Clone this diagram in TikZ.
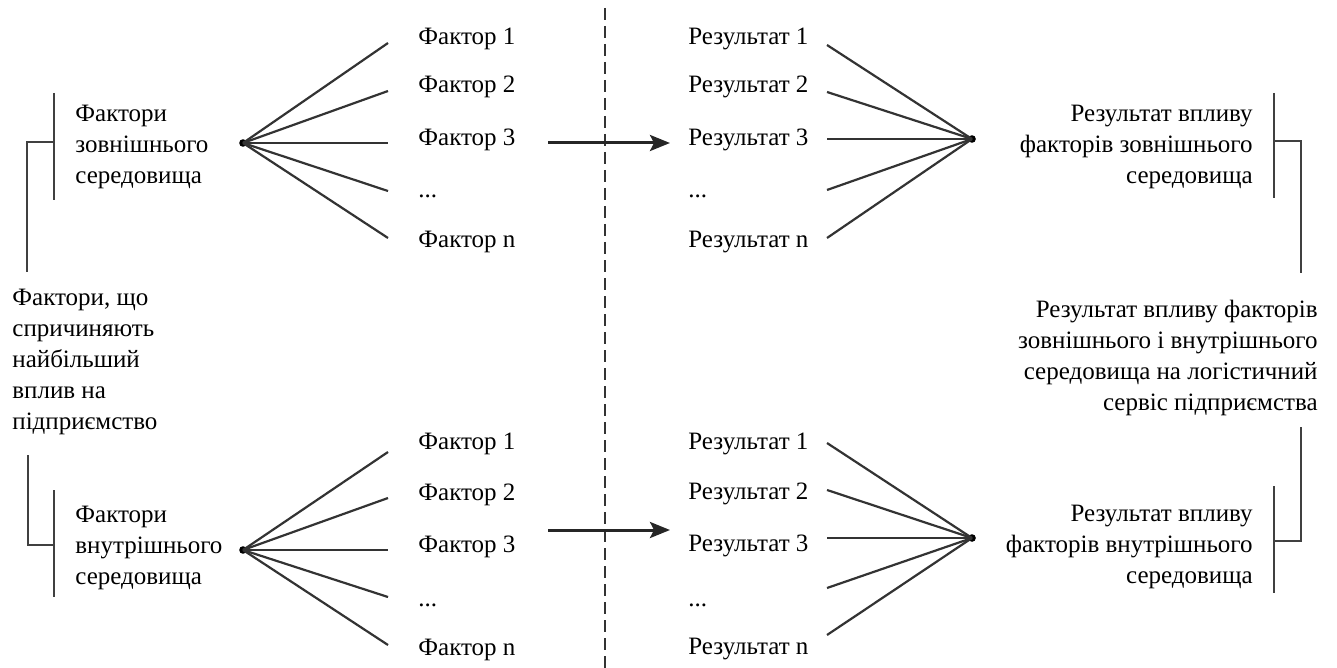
\documentclass[tikz,border=0pt]{standalone}
\usepackage{fontspec}
\setmainfont{Liberation Serif}
\usetikzlibrary{arrows.meta}

\tikzset{
  lbl/.style={inner sep=0pt, font=\fontsize{12.5}{15.5}\selectfont},
  txtL/.style={lbl, align=left, anchor=west},
  txtR/.style={lbl, align=right, anchor=east},
  item/.style={lbl, anchor=mid west},
  hub/.style={circle, fill=black, inner sep=0pt, minimum size=3.8pt},
  spoke/.style={draw=black!80, line width=1.1pt},
  brace/.style={draw=black!75, line width=1.1pt},
  flow/.style={draw=black!85, line width=1.5pt, -{Stealth[length=10pt,width=8pt,inset=2pt]}},
  divider/.style={draw=black!80, line width=0.9pt, dash pattern=on 6pt off 3pt}
}

\begin{document}
\begin{tikzpicture}[x=0.5pt, y=-0.5pt]
  \useasboundingbox (0,0) rectangle (1337,668);

  % vertical divider
  \coordinate (dtop) at (605,8);
  \coordinate (dbot) at (605,668);
  \draw[divider] (dtop) -- (dbot);

  % ---------- left column texts ----------
  \node[txtL] (ext) at (75,147) {Фактори\\зовнішнього\\середовища};
  \node[txtL] (main) at (12,362) {Фактори, що\\спричиняють\\найбільший\\вплив на\\підприємство};
  \node[txtL] (int) at (75,548) {Фактори\\внутрішнього\\середовища};

  % left brackets
  \coordinate (lb1t) at (54,93);   \coordinate (lb1b) at (54,200);
  \coordinate (lb1m) at (54,142);  \coordinate (lb1c) at (27,142);
  \coordinate (lb1e) at (27,272);
  \draw[brace] (lb1t) -- (lb1b);
  \draw[brace] (lb1m) -- (lb1c) -- (lb1e);
  \coordinate (lb2s) at (28,455);  \coordinate (lb2c) at (28,545);
  \coordinate (lb2m) at (54,545);
  \coordinate (lb2t) at (54,490);  \coordinate (lb2b) at (54,597);
  \draw[brace] (lb2s) -- (lb2c) -- (lb2m);
  \draw[brace] (lb2t) -- (lb2b);

  % ---------- right column texts ----------
  \node[txtR] (rext) at (1253,147) {Результат впливу\\факторів зовнішнього\\середовища};
  \node[txtR] (rmain) at (1318,358) {Результат впливу факторів\\зовнішнього і внутрішнього\\середовища на логістичний\\сервіс підприємства};
  \node[txtR] (rint) at (1253,547) {Результат впливу\\факторів внутрішнього\\середовища};

  % right brackets
  \coordinate (rb1t) at (1274,93);  \coordinate (rb1b) at (1274,198);
  \coordinate (rb1m) at (1274,141); \coordinate (rb1c) at (1301,141);
  \coordinate (rb1e) at (1301,273);
  \draw[brace] (rb1t) -- (rb1b);
  \draw[brace] (rb1m) -- (rb1c) -- (rb1e);
  \coordinate (rb2s) at (1301,427); \coordinate (rb2c) at (1301,541);
  \coordinate (rb2m) at (1274,541);
  \coordinate (rb2t) at (1274,486); \coordinate (rb2b) at (1274,593);
  \draw[brace] (rb2s) -- (rb2c) -- (rb2m);
  \draw[brace] (rb2t) -- (rb2b);

  % ---------- upper block: external factors ----------
  \node[hub] (hA) at (243,143) {};
  \foreach \i/\y in {1/43, 2/91, 3/143, 4/191, 5/238} {
    \coordinate (fA\i) at (388,\y);
    \draw[spoke] (hA.center) -- (fA\i);
  }
  \node[item] (tA1) at (418,40)  {Фактор 1};
  \node[item] (tA2) at (418,88)  {Фактор 2};
  \node[item] (tA3) at (418,141) {Фактор 3};
  \node[item] (tA4) at (418,193) {...};
  \node[item] (tA5) at (418,243) {Фактор n};

  \node[hub] (hB) at (972,139) {};
  \foreach \i/\y in {1/45, 2/92, 3/139, 4/190, 5/238} {
    \coordinate (fB\i) at (827,\y);
    \draw[spoke] (fB\i) -- (hB.center);
  }
  \node[item] (rA1) at (688,40)  {Результат 1};
  \node[item] (rA2) at (688,88)  {Результат 2};
  \node[item] (rA3) at (688,141) {Результат 3};
  \node[item] (rA4) at (688,193) {...};
  \node[item] (rA5) at (688,243) {Результат n};

  \coordinate (aAs) at (548,143);
  \coordinate (aAe) at (670,143);
  \draw[flow] (aAs) -- (aAe);

  % ---------- lower block: internal factors ----------
  \node[hub] (hC) at (243,550) {};
  \foreach \i/\y in {1/452, 2/498, 3/550, 4/597, 5/645} {
    \coordinate (fC\i) at (388,\y);
    \draw[spoke] (hC.center) -- (fC\i);
  }
  \node[item] (tC1) at (418,445) {Фактор 1};
  \node[item] (tC2) at (418,496) {Фактор 2};
  \node[item] (tC3) at (418,548) {Фактор 3};
  \node[item] (tC4) at (418,602) {...};
  \node[item] (tC5) at (418,651) {Фактор n};

  \node[hub] (hD) at (972,538) {};
  \foreach \i/\y in {1/443, 2/490, 3/538, 4/588, 5/635} {
    \coordinate (fD\i) at (827,\y);
    \draw[spoke] (fD\i) -- (hD.center);
  }
  \node[item] (rC1) at (688,445) {Результат 1};
  \node[item] (rC2) at (688,495) {Результат 2};
  \node[item] (rC3) at (688,547) {Результат 3};
  \node[item] (rC4) at (688,602) {...};
  \node[item] (rC5) at (688,650) {Результат n};

  \coordinate (aCs) at (548,530);
  \coordinate (aCe) at (670,530);
  \draw[flow] (aCs) -- (aCe);
\end{tikzpicture}
\end{document}
